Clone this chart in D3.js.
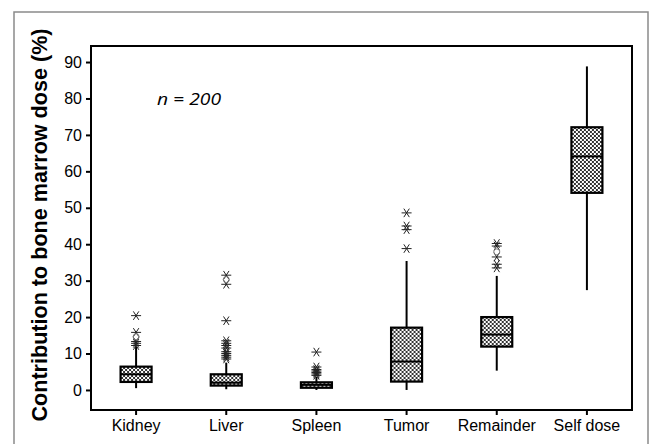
<!DOCTYPE html>
<html>
<head>
<meta charset="utf-8">
<script src="https://cdn.jsdelivr.net/npm/d3@7"></script>
<style>
  body { margin: 0; background: #fff; }
  svg { display: block; }
</style>
</head>
<body>
<div id="chart"></div>
<script>
// categories and box statistics
const categories = ["Kidney", "Liver", "Spleen", "Tumor", "Remainder", "Self dose"];
const whiskerLow  = [0.5, 0.2, 0.0, 0.0, 5.3, 27.4];
const q1          = [2.2, 1.2, 0.6, 2.3, 11.9, 54.1];
const medians     = [4.3, 2.0, 1.4, 7.8, 15.2, 64.1];
const q3          = [6.4, 4.3, 2.1, 17.1, 20.0, 72.1];
const whiskerHigh = [11.9, 7.5, 3.6, 35.4, 31.3, 88.8];

// extreme values (asterisks) per category
const extremes = [
  [12.2, 12.8, 13.3, 15.8, 20.4],
  [8.5, 9.0, 9.5, 10.0, 10.5, 11.5, 12.2, 12.8, 13.5, 19.0, 29.0, 31.5],
  [4.0, 4.4, 4.8, 5.2, 5.6, 6.3, 10.4],
  [38.8, 44.0, 45.0, 48.6],
  [33.5, 34.5, 36.5, 39.5, 40.2],
  []
];
// outliers (circles) per category
const outliers = [
  [14.6],
  [30.3],
  [],
  [],
  [37.9],
  []
];

const yTicks = [0, 10, 20, 30, 40, 50, 60, 70, 80, 90];

const width = 650, height = 444;
const margin = { left: 91, top: 46, right: 18, bottom: 34 };

const svg = d3.select("#chart").append("svg")
  .attr("width", width)
  .attr("height", height);

// outer frame
svg.append("rect")
  .attr("x", 14).attr("y", 12)
  .attr("width", 634).attr("height", 460)
  .attr("fill", "none")
  .attr("stroke", "#8a8a8a")
  .attr("stroke-width", 1.5);

// crosshatch fill
const defs = svg.append("defs");
const pat = defs.append("pattern")
  .attr("id", "hatch")
  .attr("patternUnits", "userSpaceOnUse")
  .attr("width", 4).attr("height", 4);
pat.append("rect").attr("width", 4).attr("height", 4).attr("fill", "#fff");
pat.append("path")
  .attr("d", "M0,0L4,4M4,0L0,4")
  .attr("stroke", "#333")
  .attr("stroke-width", 1);

const x = d3.scaleBand()
  .domain(categories)
  .range([margin.left, width - margin.right]);

const y = d3.scaleLinear()
  .domain([-5.5, 94.4])
  .range([height - margin.bottom, margin.top]);

// plot frame
svg.append("rect")
  .attr("x", margin.left).attr("y", margin.top)
  .attr("width", width - margin.left - margin.right)
  .attr("height", height - margin.top - margin.bottom)
  .attr("fill", "none")
  .attr("stroke", "#000")
  .attr("stroke-width", 2);

// axes
const yAxis = svg.append("g")
  .attr("transform", `translate(${margin.left},0)`)
  .call(d3.axisLeft(y).tickValues(yTicks).tickSize(5).tickPadding(4));
yAxis.select(".domain").remove();
yAxis.selectAll("line").attr("stroke-width", 2);
yAxis.selectAll("text")
  .attr("font-family", "Liberation Sans, Arial, sans-serif")
  .attr("font-size", 16)
  .attr("fill", "#000");

const xAxis = svg.append("g")
  .attr("transform", `translate(0,${height - margin.bottom})`)
  .call(d3.axisBottom(x).tickSize(5).tickPadding(5));
xAxis.select(".domain").remove();
xAxis.selectAll("line").attr("stroke-width", 2);
xAxis.selectAll("text")
  .attr("font-family", "Liberation Sans, Arial, sans-serif")
  .attr("font-size", 16)
  .attr("fill", "#000");

// boxes
const boxW = 31;
const boxes = svg.append("g")
  .selectAll("g")
  .data(categories)
  .join("g")
  .attr("transform", d => `translate(${x(d) + x.bandwidth() / 2},0)`);

boxes.append("line")
  .attr("y1", (d, i) => y(whiskerLow[i]))
  .attr("y2", (d, i) => y(whiskerHigh[i]))
  .attr("stroke", "#000")
  .attr("stroke-width", 2);

boxes.append("rect")
  .attr("x", -boxW / 2)
  .attr("width", boxW)
  .attr("y", (d, i) => y(q3[i]))
  .attr("height", (d, i) => y(q1[i]) - y(q3[i]))
  .attr("fill", "url(#hatch)")
  .attr("stroke", "#000")
  .attr("stroke-width", 2.2);

boxes.append("line")
  .attr("x1", -boxW / 2).attr("x2", boxW / 2)
  .attr("y1", (d, i) => y(medians[i]))
  .attr("y2", (d, i) => y(medians[i]))
  .attr("stroke", "#000")
  .attr("stroke-width", 2);

// asterisks
const r = 5;
const star = `M${-r},0H${r}` +
  `M${-r * 0.55},${-r * 0.85}L${r * 0.55},${r * 0.85}` +
  `M${r * 0.55},${-r * 0.85}L${-r * 0.55},${r * 0.85}`;

boxes.each(function(d, i) {
  const g = d3.select(this);
  g.selectAll("path.ext")
    .data(extremes[i])
    .join("path")
    .attr("class", "ext")
    .attr("d", star)
    .attr("transform", v => `translate(0,${y(v)})`)
    .attr("fill", "none")
    .attr("stroke", "#222")
    .attr("stroke-width", 1);
  g.selectAll("circle.out")
    .data(outliers[i])
    .join("circle")
    .attr("class", "out")
    .attr("r", 3)
    .attr("cy", v => y(v))
    .attr("fill", "none")
    .attr("stroke", "#777")
    .attr("stroke-width", 1);
});

// annotation
svg.append("text")
  .attr("x", 157).attr("y", 105)
  .attr("font-family", "Open Sans, sans-serif")
  .attr("font-style", "italic")
  .attr("font-size", 17)
  .attr("textLength", 64)
  .attr("lengthAdjust", "spacingAndGlyphs")
  .text("n = 200");

// y label
svg.append("text")
  .attr("transform", "translate(47,225) rotate(-90)")
  .attr("text-anchor", "middle")
  .attr("font-family", "Liberation Sans, Arial, sans-serif")
  .attr("font-weight", "bold")
  .attr("font-size", 22)
  .attr("textLength", 393)
  .attr("lengthAdjust", "spacingAndGlyphs")
  .text("Contribution to bone marrow dose (%)");
</script>
</body>
</html>
